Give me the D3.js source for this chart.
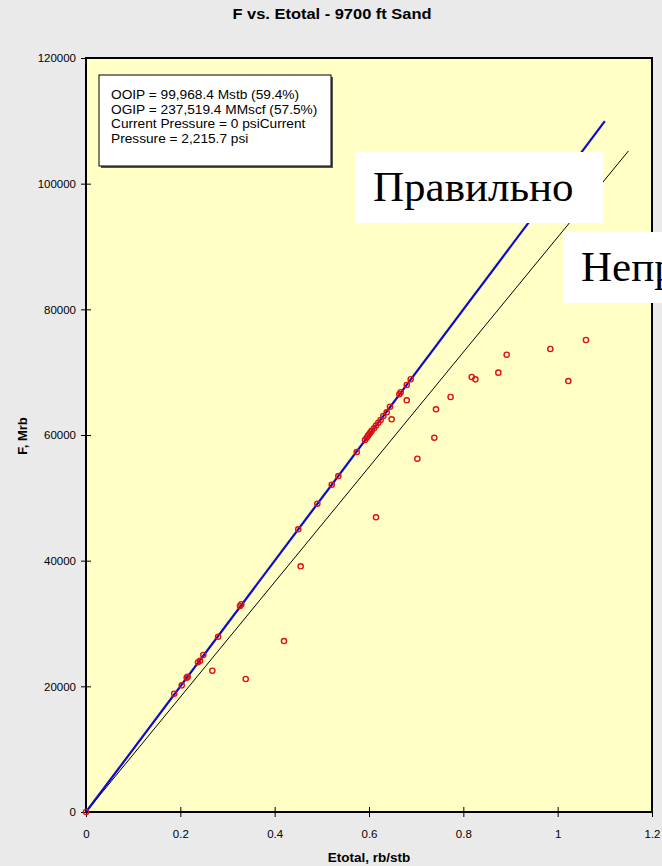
<!DOCTYPE html>
<html>
<head>
<meta charset="utf-8">
<script src="https://cdn.jsdelivr.net/npm/d3@7"></script>
<style>
  body { margin: 0; background: #eaeaea; overflow: hidden; }
  svg { display: block; font-family: "Liberation Sans", Arial, sans-serif; }
</style>
</head>
<body>
<div id="chart"></div>
<script>
// ---- data ----
const etotal = [0, 0.187, 0.203, 0.2135, 0.2156, 0.2375, 0.2417, 0.2487, 0.280, 0.3265, 0.3293,
  0.450, 0.4905, 0.521, 0.535, 0.574, 0.5915, 0.595, 0.598, 0.6007, 0.603, 0.6057, 0.6106,
  0.615, 0.6198, 0.6247, 0.6304, 0.6375, 0.6445, 0.6643, 0.6672, 0.680, 0.6884,
  0.2678, 0.3386, 0.4198, 0.4551, 0.6148, 0.648, 0.680, 0.7025, 0.7385, 0.742, 0.773,
  0.8177, 0.8255, 0.8742, 0.8919, 0.9845, 1.0226, 1.060];
const fValues = [0, 18830, 20160, 21370, 21530, 23830, 24080, 24990, 27900, 32790, 33060,
  44990, 49070, 52090, 53470, 57290, 59200, 59570, 59900, 60160, 60400, 60680, 61070,
  61500, 61960, 62390, 63020, 63610, 64500, 66480, 66800, 67960, 68870,
  22490, 21170, 27210, 39100, 46900, 62500, 65520, 56230, 59570, 64090, 66050,
  69230, 68860, 69920, 72780, 73690, 68590, 75120];

// straight lines through the origin
const matchLineE = [0, 1.1];
const matchLineF = [0, 109965];     // slope = OOIP 99,968.4
const trendLineE = [0, 1.15];
const trendLineF = [0, 105200];

const xTicks = [0, 0.2, 0.4, 0.6, 0.8, 1, 1.2];
const yTicks = [0, 20000, 40000, 60000, 80000, 100000, 120000];

const titleText = "F vs. Etotal - 9700 ft Sand";
const xLabel = "Etotal, rb/stb";
const yLabel = "F, Mrb";
const infoLines = ["OOIP = 99,968.4 Mstb (59.4%)", "OGIP = 237,519.4 MMscf (57.5%)",
  "Current Pressure = 0 psiCurrent", "Pressure = 2,215.7 psi"];
const rightLabel = "Правильно";
const wrongLabel = "Неправильно";

// ---- layout ----
const W = 662, H = 866;
const plot = {left: 86, top: 58, right: 652, bottom: 812};

const svg = d3.select("#chart").append("svg")
  .attr("width", W)
  .attr("height", H);

svg.append("rect").attr("width", W).attr("height", H).attr("fill", "#eaeaea");

const x = d3.scaleLinear().domain([0, 1.2]).range([plot.left, plot.right]);
const y = d3.scaleLinear().domain([0, 120000]).range([plot.bottom, plot.top]);

// plot area
svg.append("rect")
  .attr("x", plot.left).attr("y", plot.top)
  .attr("width", plot.right - plot.left).attr("height", plot.bottom - plot.top)
  .attr("fill", "#ffffc6")
  .attr("stroke", "#000").attr("stroke-width", 2);

// axes
let yAxis = svg.append("g")
  .attr("transform", "translate(" + plot.left + ",0)")
  .call(d3.axisLeft(y).tickValues(yTicks).tickFormat(d3.format("d")).tickSizeOuter(0));
yAxis.select(".domain").remove();
yAxis.selectAll(".tick line").attr("x1", 5).attr("x2", -5).attr("stroke", "#000");
yAxis.selectAll(".tick text").attr("x", -10).attr("font-size", 11.5)
  .attr("font-family", "Liberation Sans, Arial, sans-serif").attr("fill", "#000");

let xAxis = svg.append("g")
  .attr("transform", "translate(0," + plot.bottom + ")")
  .call(d3.axisBottom(x).tickValues(xTicks).tickFormat(d => d3.format("")(d)).tickSizeOuter(0));
xAxis.select(".domain").remove();
xAxis.selectAll(".tick line").attr("y1", -5).attr("y2", 5).attr("stroke", "#000");
xAxis.selectAll(".tick text").attr("y", 18).attr("font-size", 11.5)
  .attr("font-family", "Liberation Sans, Arial, sans-serif").attr("fill", "#000");

// titles
svg.append("text").attr("x", 332).attr("y", 19)
  .attr("text-anchor", "middle").attr("font-weight", "bold").attr("font-size", 14)
  .attr("textLength", 199).attr("lengthAdjust", "spacingAndGlyphs")
  .text(titleText);
svg.append("text").attr("x", 369).attr("y", 862)
  .attr("text-anchor", "middle").attr("font-weight", "bold").attr("font-size", 13.5)
  .text(xLabel);
svg.append("text")
  .attr("transform", "translate(27,436) rotate(-90)")
  .attr("text-anchor", "middle").attr("font-weight", "bold").attr("font-size", 13)
  .text(yLabel);

// lines
const line = d3.line().x(d => x(d[0])).y(d => y(d[1]));
svg.append("path")
  .datum(d3.zip(trendLineE, trendLineF))
  .attr("d", line).attr("fill", "none")
  .attr("stroke", "#000").attr("stroke-width", 1);
svg.append("path")
  .datum(d3.zip(matchLineE, matchLineF))
  .attr("d", line).attr("fill", "none")
  .attr("stroke", "#0a0ad0").attr("stroke-width", 2.2);

// points
svg.append("g").selectAll("circle")
  .data(d3.zip(etotal, fValues))
  .enter().append("circle")
  .attr("cx", d => x(d[0]))
  .attr("cy", d => y(d[1]))
  .attr("r", 2.6)
  .attr("fill", "none")
  .attr("stroke", "#e01010")
  .attr("stroke-width", 1.4);

// info box
let info = svg.append("g").attr("transform", "translate(99,75)");
info.append("rect").attr("x", 2).attr("y", 2).attr("width", 232).attr("height", 91)
  .attr("fill", "#555");
info.append("rect").attr("width", 232).attr("height", 91)
  .attr("fill", "#fff").attr("stroke", "#000").attr("stroke-width", 1);
info.selectAll("text").data(infoLines).enter().append("text")
  .attr("x", 12).attr("y", (d, i) => 24 + i * 14.7)
  .attr("font-size", 13.7)
  .text(d => d);

// callouts (the second one runs off the right edge, as in the original)
function callout(label, bx, by, bw, bh) {
  let g = svg.append("g").attr("transform", "translate(" + bx + "," + by + ")");
  g.append("rect").attr("width", bw).attr("height", bh).attr("fill", "#fff");
  g.append("text").attr("x", 18).attr("y", 49)
    .attr("font-family", "Liberation Serif, 'Times New Roman', serif")
    .attr("font-size", 43).attr("fill", "#000")
    .text(label);
}
callout(rightLabel, 355, 152, 248, 71);
callout(wrongLabel, 563, 232, 300, 71);
</script>
</body>
</html>
